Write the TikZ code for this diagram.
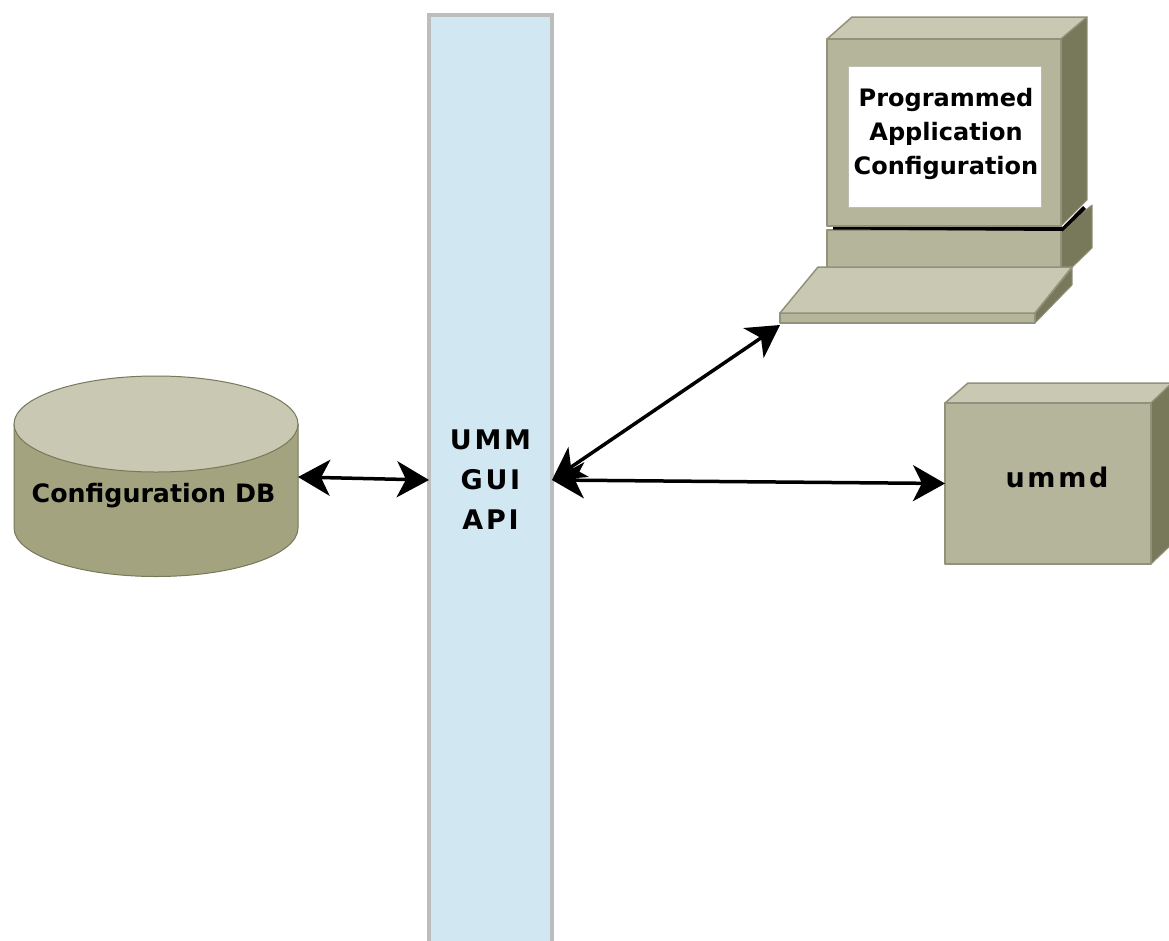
\documentclass[tikz,border=0pt]{standalone}
\usepackage{fontspec}
\setmainfont{DejaVu Sans}[BoldFont={DejaVu Sans Bold}]
\newfontfamily\widefont[LetterSpace=10]{DejaVu Sans Bold}
\usetikzlibrary{arrows.meta}

\definecolor{lighttop}{HTML}{C9C9B3}
\definecolor{frontface}{HTML}{B5B59B}
\definecolor{darkside}{HTML}{78785A}
\definecolor{cylbody}{HTML}{A3A380}
\definecolor{edgeline}{HTML}{92927A}
\definecolor{apifill}{HTML}{D1E8F2}
\definecolor{apiedge}{HTML}{BDBDBD}

\begin{document}
\begin{tikzpicture}[x=1pt, y=-1pt]
    \tikzstyle{top face}=[fill=lighttop,draw=edgeline,line width=1.5pt,line join=round]
    \tikzstyle{front face}=[fill=frontface,draw=edgeline,line width=1.5pt,line join=round]
    \tikzstyle{side face}=[fill=darkside,draw=edgeline,line width=1pt,line join=round]
    \tikzstyle{label}=[font=\fontsize{24}{34}\selectfont\bfseries,text=black,align=center,inner sep=0pt]
    \tikzstyle{link}=[{Stealth[length=32pt,width=36pt,inset=9pt]}-{Stealth[length=32pt,width=36pt,inset=9pt]},line width=3.5pt,black]
    \useasboundingbox (0,0) rectangle (1169,940);

    % the API bar
    \node [rectangle,draw=apiedge,fill=apifill,line width=4pt,outer sep=0pt,
    minimum width=123pt,minimum height=930pt,inner sep=0pt,
    font=\fontsize{27}{40}\widefont,align=center] (api) at (490.5,480) {UMM\\GUI\\API};

    % the database
    \draw [fill=cylbody,draw=darkside,line width=1pt] (14,424) -- (14,528)
    arc [start angle=180,end angle=360,x radius=142,y radius=-48.5]
    -- (298,424) -- cycle;
    \draw [fill=lighttop,draw=darkside,line width=1pt] (156,424) ellipse [x radius=142,y radius=48];
    \node [minimum width=284pt,minimum height=202pt,inner sep=0pt,outer sep=0pt] (db) at (156,477) {};
    \node [label,font=\fontsize{25.3}{30}\selectfont\bfseries] (dblabel) at (153.5,496) {Configuration DB};

    % the daemon box
    \draw [top face] (945,403) -- (968,383) -- (1172,383) -- (1151,403) -- cycle;
    \draw [side face] (1151,403) -- (1172,383) -- (1172,544) -- (1151,564) -- cycle;
    \node [rectangle,front face,minimum width=206pt,minimum height=161pt,inner sep=0pt,outer sep=0pt] (ummd) at (1048,483.5) {};
    \node [label,font=\fontsize{27}{30}\widefont] (ummdlabel) at (1057,477) {ummd};

    % the computer, base first
    \draw [side face] (1061,230) -- (1092,205) -- (1092,248) -- (1061,278) -- cycle;
    \draw [front face] (827,230) rectangle (1061,268);
    \fill [black] (833,226.5) -- (1063,226.5) -- (1083,206) -- (1086,209) -- (1063,231) -- (833,229.5) -- cycle;
    \draw [top face] (827,39) -- (852,17) -- (1087,17) -- (1061,39) -- cycle;
    \draw [side face] (1061,39) -- (1087,17) -- (1087,200) -- (1061,226) -- cycle;
    \draw [front face] (827,39) rectangle (1061,226);
    \node [rectangle,fill=white,draw=edgeline!60,line width=1pt,minimum width=193pt,minimum height=141pt,
    inner sep=0pt] (screen) at (944.5,136.5) {};
    \node [label] (screenlabel) at (946,134) {Programmed\\Application\\Configuration};

    % the keyboard
    \draw [side face] (1035,313) -- (1072,268) -- (1072,285) -- (1035,323) -- cycle;
    \draw [front face] (780,313) rectangle (1035,323);
    \draw [top face] (780,313) -- (818,267) -- (1072,267) -- (1035,313) -- cycle;
    \coordinate (keyboard) at (780,325);

    % connectors
    \draw [link] (db.east) -- (api.west);
    \draw [link] (api.east) -- (keyboard);
    \draw [link] (api.east) -- (ummd.west);

\end{tikzpicture}
\end{document}
